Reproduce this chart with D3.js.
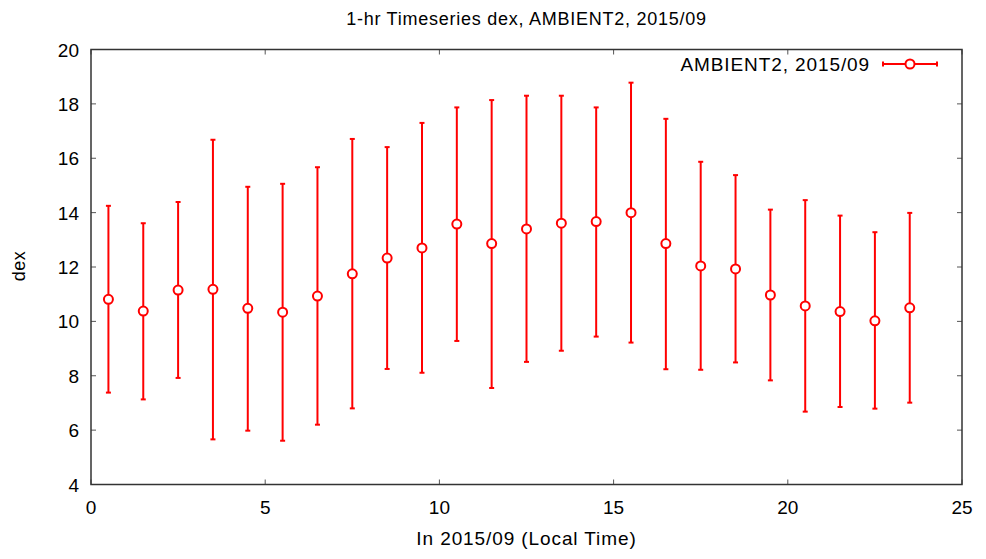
<!DOCTYPE html>
<html>
<head>
<meta charset="utf-8">
<script src="https://cdn.jsdelivr.net/npm/d3@7/dist/d3.min.js"></script>
<style>
  body { margin: 0; background: #fff; }
  text { font-family: "Liberation Sans", Arial, Helvetica, sans-serif; fill: #000; }
</style>
</head>
<body>
<svg id="chart" width="986" height="559"></svg>
<script>
const hours = [0.5,1.5,2.5,3.5,4.5,5.5,6.5,7.5,8.5,9.5,10.5,11.5,12.5,13.5,14.5,15.5,16.5,17.5,18.5,19.5,20.5,21.5,22.5,23.5];
const means = [10.81,10.38,11.15,11.18,10.48,10.34,10.93,11.75,12.33,12.70,13.58,12.86,13.40,13.61,13.67,14.00,12.86,12.04,11.93,10.97,10.57,10.36,10.02,10.50];
const upper = [14.25,13.61,14.39,16.68,14.95,15.06,15.67,16.71,16.41,17.30,17.87,18.14,18.30,18.30,17.87,18.78,17.45,15.87,15.38,14.11,14.46,13.89,13.28,13.99];
const lower = [7.38,7.13,7.92,5.66,5.98,5.61,6.20,6.80,8.25,8.11,9.28,7.55,8.51,8.92,9.44,9.22,8.24,8.22,8.49,7.83,6.68,6.85,6.79,7.01];
const xTicks = [0,5,10,15,20,25];
const yTicks = [4,6,8,10,12,14,16,18,20];
const title = "1-hr Timeseries dex, AMBIENT2, 2015/09";
const xLabel = "In 2015/09 (Local Time)";
const yLabel = "dex";
const seriesName = "AMBIENT2, 2015/09";

const data = hours.map((h,i)=>({h, m:means[i], hi:upper[i], lo:lower[i]}));

const svg = d3.select("#chart");
const L = 91, R = 962, T = 49.5, B = 484.5;
const x = d3.scaleLinear().domain([0,25]).range([L,R]);
const y = d3.scaleLinear().domain([4,20]).range([B,T]);
const red = "#ff0000";
const tickLen = 5;

// ticks (inward, mirrored)
const tg = svg.append("g").attr("stroke","#555").attr("stroke-width",1);
xTicks.forEach(t=>{
  tg.append("line").attr("x1",x(t)).attr("x2",x(t)).attr("y1",B).attr("y2",B-tickLen);
  tg.append("line").attr("x1",x(t)).attr("x2",x(t)).attr("y1",T).attr("y2",T+tickLen);
});
yTicks.forEach(t=>{
  tg.append("line").attr("x1",L).attr("x2",L+tickLen).attr("y1",y(t)).attr("y2",y(t));
  tg.append("line").attr("x1",R).attr("x2",R-tickLen).attr("y1",y(t)).attr("y2",y(t));
});

// frame
svg.append("rect").attr("x",L).attr("y",T).attr("width",R-L).attr("height",B-T)
  .attr("fill","none").attr("stroke","#333").attr("stroke-width",1.5);

// tick labels
svg.append("g").selectAll("text").data(xTicks).join("text")
  .attr("x",d=>x(d)).attr("y",514).attr("text-anchor","middle")
  .style("font-size","19px").text(d=>d);
svg.append("g").selectAll("text").data(yTicks).join("text")
  .attr("x",79).attr("y",d=>y(d)+7).attr("text-anchor","end")
  .style("font-size","19px").text(d=>d);

// titles
svg.append("text").attr("x",(L+R)/2).attr("y",25).attr("text-anchor","middle")
  .style("font-size","18px").style("letter-spacing","0.75px").text(title);
svg.append("text").attr("x",(L+R)/2).attr("y",545).attr("text-anchor","middle")
  .style("font-size","19px").style("letter-spacing","0.9px").text(xLabel);
svg.append("text").attr("transform","translate(25,266) rotate(-90)").attr("text-anchor","middle")
  .style("font-size","18px").style("letter-spacing","0.5px").text(yLabel);

// error bars
const cap = 2.5;
const eg = svg.append("g").attr("stroke",red).attr("stroke-width",2).attr("fill","none");
data.forEach(d=>{
  eg.append("line").attr("x1",x(d.h)).attr("x2",x(d.h)).attr("y1",y(d.lo)).attr("y2",y(d.hi));
  eg.append("line").attr("x1",x(d.h)-cap).attr("x2",x(d.h)+cap).attr("y1",y(d.lo)).attr("y2",y(d.lo));
  eg.append("line").attr("x1",x(d.h)-cap).attr("x2",x(d.h)+cap).attr("y1",y(d.hi)).attr("y2",y(d.hi));
});
svg.append("g").selectAll("circle").data(data).join("circle")
  .attr("cx",d=>x(d.h)).attr("cy",d=>y(d.m)).attr("r",4.5)
  .attr("fill","#fff").attr("stroke",red).attr("stroke-width",2);

// legend
const ly = 64;
svg.append("text").attr("x",870).attr("y",ly+7).attr("text-anchor","end")
  .style("font-size","19px").style("letter-spacing","0.9px").text(seriesName);
const lg = svg.append("g").attr("stroke",red).attr("stroke-width",2).attr("fill","none");
lg.append("line").attr("x1",883).attr("x2",937).attr("y1",ly).attr("y2",ly);
lg.append("line").attr("x1",883).attr("x2",883).attr("y1",ly-cap).attr("y2",ly+cap);
lg.append("line").attr("x1",937).attr("x2",937).attr("y1",ly-cap).attr("y2",ly+cap);
lg.append("circle").attr("cx",910).attr("cy",ly).attr("r",4.5).attr("fill","#fff");
</script>
</body>
</html>
